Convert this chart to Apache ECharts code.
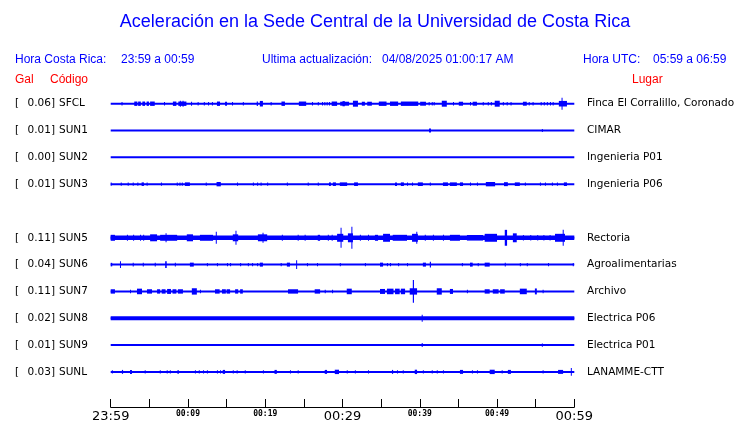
<!DOCTYPE html>
<html><head><meta charset="utf-8">
<script src="https://cdn.jsdelivr.net/npm/echarts@6/dist/echarts.min.js"></script>
<style>html,body{margin:0;padding:0;background:#fff}#c{width:740px;height:423px}</style>
</head><body><div id="c"></div>
<script>
// ---- data ----
const codes = ['SFCL','SUN1','SUN2','SUN3','SUN5','SUN6','SUN7','SUN8','SUN9','SUNL'];
const rows = [0,1,2,3,5,6,7,8,9,10];            // row slot (SUN4 slot is empty)
const maxGal = ['0.06','0.01','0.00','0.01','0.11','0.04','0.11','0.02','0.01','0.03'];
const places = ['Finca El Corralillo, Coronado','CIMAR','Ingenieria P01','Ingenieria P06','Rectoria','Agroalimentarias','Archivo','Electrica P06','Electrica P01','LANAMME-CTT'];
const timeRange = [0, 60];                       // minutes after 23:59
const tickLabels = {0:'23:59',10:'00:09',20:'00:19',30:'00:29',40:'00:39',50:'00:49',60:'00:59'};
const bigLabels = [0,30,60];
// bursts: [start min, end min, half-amplitude Gal]
const sfcl = [[1.4,1.5,.018],[3.05,3.45,.022],[3.55,3.9,.022],[4.1,4.45,.022],[4.65,4.95,.022],[5.1,5.7,.022],[6.9,7.0,.018],[8.05,8.5,.022],[8.75,9.8,.022],[8.95,9.05,.03],[9.3,9.4,.03],[10.4,10.5,.02],[11.25,11.35,.018],[12.05,12.15,.018],[12.6,12.7,.018],[13.1,13.2,.018],[13.75,14.15,.022],[14.8,15.05,.02],[15.7,15.8,.018],[17.1,17.2,.018],[18.9,19.05,.022],[19.3,19.7,.028],[20.7,20.8,.018],[22.1,22.55,.022],[24.35,25.3,.022],[26.05,26.15,.018],[26.8,26.9,.018],[27.35,27.45,.018],[27.65,27.75,.018],[27.95,28.05,.018],[28.25,28.35,.018],[28.6,29.3,.022],[29.7,30.85,.02],[30.0,30.3,.026],[31.35,32.0,.03],[32.5,32.9,.02],[33.2,33.8,.02],[34.7,35.7,.022],[36.15,37.2,.022],[37.55,39.8,.022],[40.05,40.8,.02],[41.15,41.25,.018],[41.55,41.65,.018],[41.8,41.9,.018],[42.85,43.5,.03],[44.3,44.4,.018],[45.05,45.6,.02],[46.5,46.6,.018],[46.85,47.4,.02],[48.15,48.25,.018],[48.8,48.9,.018],[49.2,49.3,.018],[49.7,50.35,.03],[50.75,50.85,.018],[51.25,51.35,.018],[51.75,51.85,.018],[53.35,53.85,.02],[54.1,54.2,.018],[54.6,54.7,.018],[55.65,55.75,.018],[56.05,56.15,.018],[56.45,56.55,.018],[56.85,56.95,.018],[57.2,57.3,.018],[58.0,59.05,.028],[58.35,58.45,.06]];
const sun1 = [[41.2,41.45,.02],[55.8,55.9,.016]];
const sun2 = [];
const sun3 = [[0,0.1,.016],[1.3,1.4,.016],[2.2,2.3,.016],[2.85,2.95,.016],[3.45,3.55,.016],[4.0,4.3,.018],[4.65,4.75,.016],[6.5,6.6,.016],[8.55,8.65,.016],[8.9,9.0,.016],[9.2,9.3,.016],[9.6,10.25,.018],[12.3,12.4,.016],[13.7,14.25,.022],[16.35,16.45,.016],[18.4,18.5,.016],[18.95,19.05,.016],[19.4,19.5,.016],[20.25,20.35,.016],[22.8,22.9,.016],[25.5,25.6,.016],[26.8,26.9,.016],[28.25,28.5,.018],[28.75,29.15,.018],[29.65,30.6,.018],[31.5,32.0,.018],[36.8,37.05,.018],[37.55,37.95,.018],[38.35,38.45,.016],[39.0,39.1,.016],[39.75,40.4,.018],[41.3,41.4,.016],[43.0,43.65,.018],[43.9,44.8,.018],[45.2,45.6,.018],[46.5,46.6,.016],[47.4,47.5,.016],[48.55,49.75,.022],[50.9,51.4,.02],[52.3,52.95,.018],[53.6,53.7,.016],[55.55,55.65,.016],[56.2,56.3,.016],[57.1,57.2,.016],[57.75,57.85,.016],[58.65,59.05,.018]];
const sun5 = [[0,60,.022],[0,0.55,.03],[2.1,2.2,.03],[2.9,3.0,.03],[3.8,3.9,.03],[4.2,4.3,.03],[5.1,6.0,.035],[6.4,8.6,.03],[7.1,7.2,.045],[9.85,10.65,.035],[11.55,13.25,.03],[13.6,13.7,.06],[15.8,16.5,.035],[16.15,16.25,.07],[19.05,20.25,.035],[19.65,19.75,.05],[22.15,22.25,.03],[24.2,24.3,.03],[25.1,25.2,.03],[26.8,27.1,.03],[28.1,28.2,.03],[28.6,28.7,.03],[29.3,30.1,.04],[29.75,29.85,.1],[30.7,31.35,.045],[31.15,31.25,.11],[32.25,32.35,.03],[33.3,33.4,.03],[34.2,34.6,.03],[35.25,36.15,.04],[36.5,38.35,.03],[39.0,39.75,.04],[39.55,39.65,.06],[40.65,40.75,.03],[41.7,41.8,.03],[43.0,43.1,.03],[43.9,45.2,.03],[46.1,48.2,.028],[48.4,50.0,.04],[51.0,51.3,.08],[52.05,52.55,.045],[53.35,53.45,.028],[54.3,54.4,.028],[55.2,55.3,.028],[56.0,56.1,.028],[56.8,56.9,.028],[57.5,58.8,.04],[58.5,58.6,.08]];
const sun6 = [[0,0.2,.018],[1.2,1.3,.035],[2.85,2.95,.02],[4.15,4.25,.018],[5.7,5.8,.018],[7.05,7.25,.035],[8.3,8.4,.018],[10.25,10.75,.02],[12.45,12.55,.016],[13.75,13.85,.016],[15.05,15.15,.016],[15.45,15.55,.016],[16.75,16.85,.016],[17.75,17.85,.016],[18.3,18.4,.016],[18.95,19.05,.016],[19.3,19.7,.02],[22.0,22.1,.016],[22.8,23.2,.02],[24.0,24.1,.045],[25.4,25.5,.016],[26.7,26.8,.016],[29.65,29.75,.016],[32.9,33.0,.016],[34.85,35.25,.02],[35.75,35.85,.016],[36.15,36.25,.016],[37.2,37.3,.016],[38.35,38.45,.016],[40.4,40.8,.02],[41.3,41.45,.03],[45.45,45.55,.016],[46.5,46.85,.02],[47.5,47.6,.016],[48.4,49.05,.02],[51.0,51.1,.018],[52.95,53.05,.016],[53.85,53.95,.016],[56.6,56.7,.016],[59.8,59.9,.016]];
const sun7 = [[0,0.55,.022],[2.5,2.6,.018],[3.4,4.05,.028],[4.7,5.35,.022],[6.0,6.4,.022],[6.6,7.1,.022],[7.3,7.8,.025],[8.0,8.5,.022],[8.7,9.35,.022],[10.5,11.15,.032],[11.55,11.65,.018],[13.5,14.1,.022],[14.4,14.9,.022],[15.0,15.45,.022],[16.1,16.5,.022],[16.75,17.1,.022],[22.95,24.25,.022],[26.4,27.1,.022],[27.7,27.8,.018],[28.65,28.75,.018],[30.55,31.2,.028],[34.85,35.5,.025],[35.75,36.6,.028],[36.8,37.4,.028],[37.55,38.1,.028],[38.7,39.65,.032],[39.1,39.25,.115],[42.2,42.85,.032],[43.9,44.3,.025],[46.1,46.2,.018],[48.4,49.05,.022],[49.45,50.2,.022],[50.4,51.0,.022],[52.95,53.85,.028],[54.9,55.15,.03],[55.9,56.0,.018]];
const sun8 = [[0,60,.02],[40.25,40.35,.035]];
const sun9 = [[40.25,40.35,.02],[55.8,55.9,.016]];
const sunl = [[0.15,0.25,.016],[1.45,1.6,.02],[2.5,2.75,.02],[4.4,4.5,.016],[6.35,6.45,.016],[7.25,7.35,.016],[7.65,7.75,.016],[8.65,8.8,.02],[10.9,11.0,.016],[11.4,11.5,.016],[11.95,12.05,.016],[12.45,12.55,.016],[13.75,13.85,.016],[14.15,14.25,.016],[14.5,14.8,.02],[15.8,15.9,.016],[16.3,16.4,.016],[17.35,17.45,.016],[19.7,19.8,.016],[21.2,21.5,.02],[23.2,23.3,.016],[24.2,24.3,.016],[27.7,28.0,.02],[29.0,29.55,.022],[30.55,30.65,.016],[31.6,31.7,.016],[33.3,33.4,.016],[36.4,36.55,.02],[37.05,37.15,.016],[37.8,37.9,.016],[39.35,39.65,.022],[40.4,40.5,.016],[41.55,41.65,.016],[42.2,42.3,.016],[43.0,43.1,.016],[45.2,45.6,.02],[46.75,46.85,.016],[47.4,47.5,.016],[49.05,49.7,.022],[50.6,50.7,.016],[51.4,51.8,.02],[55.9,56.0,.016],[57.9,58.55,.02],[59.55,59.65,.04]];
const traces = [sfcl,sun1,sun2,sun3,sun5,sun6,sun7,sun8,sun9,sunl];

// ---- layout / style ----
const ROW_GAL = 0.27;   // vertical spacing between rows, in Gal
const BLUE = '#0000ff', RED = '#ff0000';
const chart = echarts.init(document.getElementById('c'), null, {renderer:'canvas'});

const series = [];
traces.forEach((tr, i) => {
  const off = -rows[i] * ROW_GAL;
  series.push({
    type:'line', silent:true, symbol:'none', animation:false,
    data:[[timeRange[0], off],[timeRange[1], off]],
    lineStyle:{color:BLUE, width:2}
  });
  series.push({
    type:'custom', silent:true, animation:false,
    dimensions:['t0','t1','amp'],
    encode:{x:[0,1], y:2},
    data: tr,
    renderItem(params, api){
      const a = api.value(2);
      const p0 = api.coord([api.value(0), off + a]);
      const p1 = api.coord([api.value(1), off - a]);
      const w = Math.max(1, p1[0]-p0[0]);
      return {type:'rect', shape:{x:p0[0], y:p0[1], width:w, height:p1[1]-p0[1]}, style:{fill:BLUE}};
    }
  });
});

const option = {
  backgroundColor:'#fff',
  animation:false,
  grid:{left:110.7, right:165.7, top:90.3, height:297},
  xAxis:{
    type:'value', min:timeRange[0], max:timeRange[1], interval:5, offset:21.7,
    axisLine:{onZero:false, lineStyle:{color:'#000', width:1}},
    axisTick:{inside:true, length:8, lineStyle:{color:'#000', width:1}},
    splitLine:{show:false},
    axisLabel:{
      showMinLabel:true, showMaxLabel:true, margin:3,
      formatter:v => tickLabels[v] ? (bigLabels.includes(v) ? '{b|'+tickLabels[v]+'}' : '{s|'+tickLabels[v]+'}') : '',
      rich:{
        b:{fontFamily:'DejaVu Sans', fontSize:13, color:'#000'},
        s:{fontFamily:'DejaVu Sans Mono', fontSize:8, fontWeight:'bold', color:'#000', padding:[0,0,2,0]}
      }
    }
  },
  yAxis:{type:'value', min:-10*ROW_GAL-0.135, max:0.135, show:false, splitLine:{show:false}},
  series
};
chart.setOption(option);

const hdr = {fontFamily:'Liberation Sans', fontSize:12, fill:BLUE, textVerticalAlign:'middle'};
const red = {fontFamily:'Liberation Sans', fontSize:12, fill:RED, textVerticalAlign:'middle'};
const graphic = [
  {type:'text', x:375, y:22, style:{text:'Aceleración en la Sede Central de la Universidad de Costa Rica', fontFamily:'Liberation Sans', fontSize:18, fill:BLUE, textAlign:'center', textVerticalAlign:'middle'}},
  {type:'text', x:15, y:60, style:Object.assign({text:'Hora Costa Rica:'}, hdr)},
  {type:'text', x:121, y:60, style:Object.assign({text:'23:59 a 00:59'}, hdr)},
  {type:'text', x:262, y:60, style:Object.assign({text:'Ultima actualización:'}, hdr)},
  {type:'text', x:382, y:60, style:Object.assign({text:'04/08/2025 01:00:17 AM'}, hdr)},
  {type:'text', x:583, y:60, style:Object.assign({text:'Hora UTC:'}, hdr)},
  {type:'text', x:653, y:60, style:Object.assign({text:'05:59 a 06:59'}, hdr)},
  {type:'text', x:15, y:80, style:Object.assign({text:'Gal'}, red)},
  {type:'text', x:50, y:80, style:Object.assign({text:'Código'}, red)},
  {type:'text', x:632, y:80, style:Object.assign({text:'Lugar'}, red)}
];
const lab = {fontFamily:'DejaVu Sans', fontSize:10.5, fill:'#000', textVerticalAlign:'middle'};
codes.forEach((c, i) => {
  const y = chart.convertToPixel({gridIndex:0}, [0, -rows[i]*ROW_GAL])[1];
  graphic.push({type:'text', x:15, y:y, style:Object.assign({text:'['}, lab)});
  graphic.push({type:'text', x:55, y:y, style:Object.assign({text:maxGal[i]+']', textAlign:'right'}, lab)});
  graphic.push({type:'text', x:59, y:y, style:Object.assign({text:c}, lab)});
  graphic.push({type:'text', x:587, y:y, style:Object.assign({text:places[i]}, lab)});
});
chart.setOption({graphic});
</script></body></html>
